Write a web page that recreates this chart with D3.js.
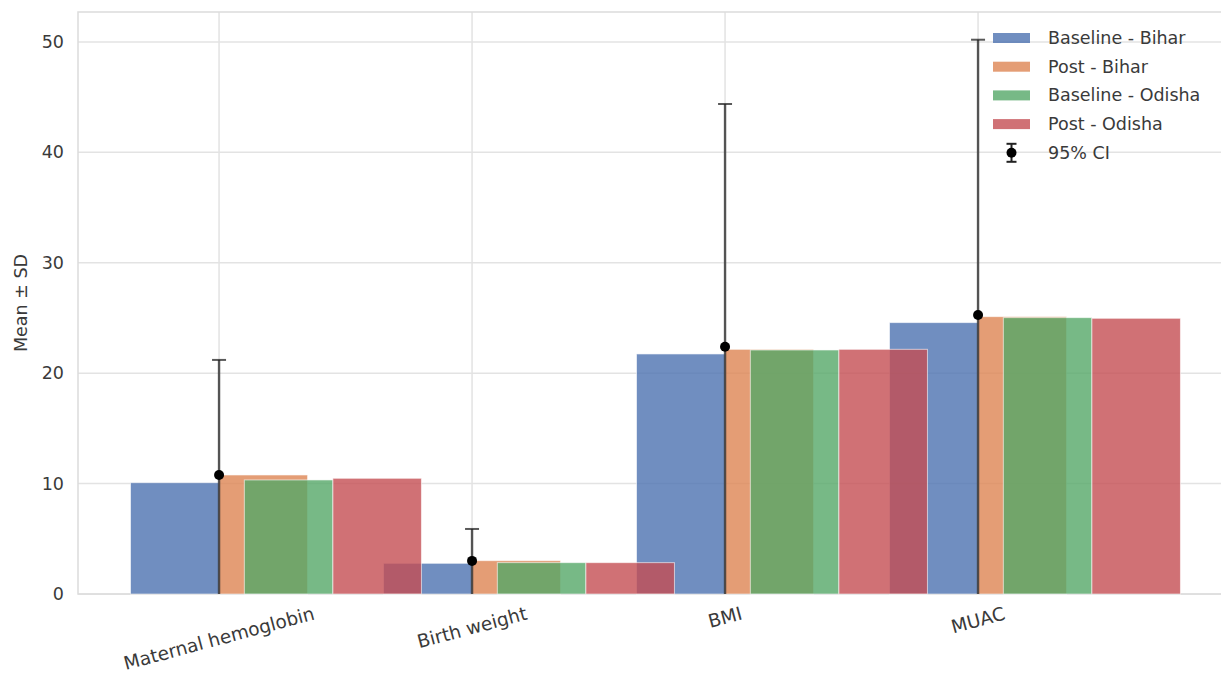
<!DOCTYPE html>
<html>
<head>
<meta charset="utf-8">
<script src="https://cdn.jsdelivr.net/npm/d3@7"></script>
<style>
  html, body { margin: 0; padding: 0; background: #fff; }
  svg { display: block; font-family: "DejaVu Sans", sans-serif; }
</style>
</head>
<body>
<svg id="chart" width="1221" height="676"></svg>
<script>
// Outcome categories on the x axis
const categories = ["Maternal hemoglobin", "Birth weight", "BMI", "MUAC"];

// Group means per state and survey round
const baselineBihar  = [10.08, 2.78, 21.74, 24.58];
const postBihar      = [10.78, 3.02, 22.16, 25.12];
const baselineOdisha = [10.33, 2.84, 22.10, 25.03];
const postOdisha     = [10.48, 2.84, 22.16, 24.97];

// Pooled mean and SD drawn as the error bar at each category
const pooledMean = [10.78, 3.00, 22.40, 25.27];
const pooledSD   = [10.42, 2.89, 21.98, 24.93];

const seriesNames = ["Baseline - Bihar", "Post - Bihar", "Baseline - Odisha", "Post - Odisha"];
const seriesValues = [baselineBihar, postBihar, baselineOdisha, postOdisha];
const yTicks = [0, 10, 20, 30, 40, 50];

// seaborn "deep" colours
const colors = ["#4C72B0", "#DD8452", "#55A868", "#C44E52"];
const barAlpha = 0.8;

// bar geometry in category units: width and left edge of each series
const barW = 0.35;
const barLeft = [-0.35, 0, 0.1, 0.45];

const svg = d3.select("#chart");
const plot = { left: 78, top: 12, bottom: 594 };
const unitPx = 253;

const xMin = d3.min(barLeft), xMax = categories.length - 1 + d3.max(barLeft) + barW;
const pad = (xMax - xMin) * 0.05;
const x = d3.scaleLinear()
  .domain([xMin - pad, xMax + pad])
  .range([plot.left, plot.left + (xMax - xMin + 2 * pad) * unitPx]);
plot.right = x.range()[1];

const yTop = d3.max(pooledMean.map((m, i) => m + pooledSD[i])) * 1.05;
const y = d3.scaleLinear().domain([0, yTop]).range([plot.bottom, plot.top]);

const gridColor = "#e3e3e3";
const textColor = "#3a3a3a";
const fontSize = 17.5;
const xLabelSize = 18.5;

// grid
const grid = svg.append("g");
grid.selectAll("line.h").data(yTicks).join("line")
  .attr("x1", plot.left).attr("x2", plot.right)
  .attr("y1", d => y(d)).attr("y2", d => y(d))
  .attr("stroke", gridColor).attr("stroke-width", 1.5);
grid.selectAll("line.v").data(categories).join("line")
  .attr("x1", (d, i) => x(i)).attr("x2", (d, i) => x(i))
  .attr("y1", plot.top).attr("y2", plot.bottom)
  .attr("stroke", gridColor).attr("stroke-width", 1.5);

// frame
svg.append("rect")
  .attr("x", plot.left).attr("y", plot.top)
  .attr("width", plot.right - plot.left).attr("height", plot.bottom - plot.top)
  .attr("fill", "none").attr("stroke", "#dcdcdc").attr("stroke-width", 1.5);

// bars, one layer per series
seriesValues.forEach((vals, s) => {
  svg.append("g").selectAll("rect").data(vals).join("rect")
    .attr("x", (d, i) => x(i + barLeft[s]))
    .attr("width", x(barW) - x(0))
    .attr("y", d => y(d))
    .attr("height", d => y(0) - y(d))
    .attr("fill", colors[s]).attr("fill-opacity", barAlpha)
    .attr("stroke", "#fff").attr("stroke-opacity", 0.6).attr("stroke-width", 1);
});

// error bars: mean with SD whisker, clipped at zero
const eb = svg.append("g");
const capHalf = 7;
pooledMean.forEach((m, i) => {
  const cx = x(i);
  const hi = m + pooledSD[i];
  eb.append("line").attr("x1", cx).attr("x2", cx)
    .attr("y1", y(0)).attr("y2", y(hi))
    .attr("stroke", "#222").attr("stroke-opacity", 0.75).attr("stroke-width", 2.4);
  eb.append("line").attr("x1", cx - capHalf).attr("x2", cx + capHalf)
    .attr("y1", y(hi)).attr("y2", y(hi))
    .attr("stroke", "#222").attr("stroke-opacity", 0.75).attr("stroke-width", 2);
  eb.append("circle").attr("cx", cx).attr("cy", y(m)).attr("r", 5).attr("fill", "#000");
});

// y axis labels
svg.append("g").selectAll("text").data(yTicks).join("text")
  .attr("x", plot.left - 14).attr("y", d => y(d))
  .attr("text-anchor", "end").attr("dominant-baseline", "central")
  .attr("font-size", fontSize).attr("fill", textColor)
  .text(d => d);

svg.append("text")
  .attr("transform", `translate(21,${(plot.top + plot.bottom) / 2}) rotate(-90)`)
  .attr("text-anchor", "middle").attr("dominant-baseline", "central")
  .attr("font-size", fontSize).attr("fill", textColor)
  .text("Mean ± SD");

// x tick labels, rotated 15°, top of rotated box below the axis
const rot = 15 * Math.PI / 180;
const labelTop = plot.bottom + 10;
categories.forEach((c, i) => {
  const t = svg.append("text")
    .attr("text-anchor", "middle").attr("dominant-baseline", "central")
    .attr("font-size", xLabelSize).attr("fill", textColor)
    .text(c);
  const L = t.node().getComputedTextLength();
  const h = xLabelSize * 1.0;
  const half = (L * Math.sin(rot) + h * Math.cos(rot)) / 2;
  t.attr("transform", `translate(${x(i)},${labelTop + half}) rotate(-15)`);
});

// legend
const lg = svg.append("g");
const lgX = 993, lgY0 = 38, lgStep = 28.7;
seriesNames.forEach((n, s) => {
  const yy = lgY0 + s * lgStep;
  lg.append("rect").attr("x", lgX).attr("y", yy - 5).attr("width", 37).attr("height", 10)
    .attr("fill", colors[s]).attr("fill-opacity", barAlpha);
  lg.append("text").attr("x", lgX + 55).attr("y", yy)
    .attr("dominant-baseline", "central").attr("font-size", fontSize).attr("fill", textColor)
    .text(n);
});
{
  const yy = lgY0 + 4 * lgStep, cx = lgX + 18.5;
  lg.append("line").attr("x1", cx).attr("x2", cx).attr("y1", yy - 9).attr("y2", yy + 9)
    .attr("stroke", "#222").attr("stroke-width", 2);
  [yy - 9, yy + 9].forEach(v => lg.append("line")
    .attr("x1", cx - 5).attr("x2", cx + 5).attr("y1", v).attr("y2", v)
    .attr("stroke", "#222").attr("stroke-width", 2));
  lg.append("circle").attr("cx", cx).attr("cy", yy).attr("r", 5).attr("fill", "#000");
  lg.append("text").attr("x", lgX + 55).attr("y", yy)
    .attr("dominant-baseline", "central").attr("font-size", fontSize).attr("fill", textColor)
    .text("95% CI");
}
</script>
</body>
</html>
